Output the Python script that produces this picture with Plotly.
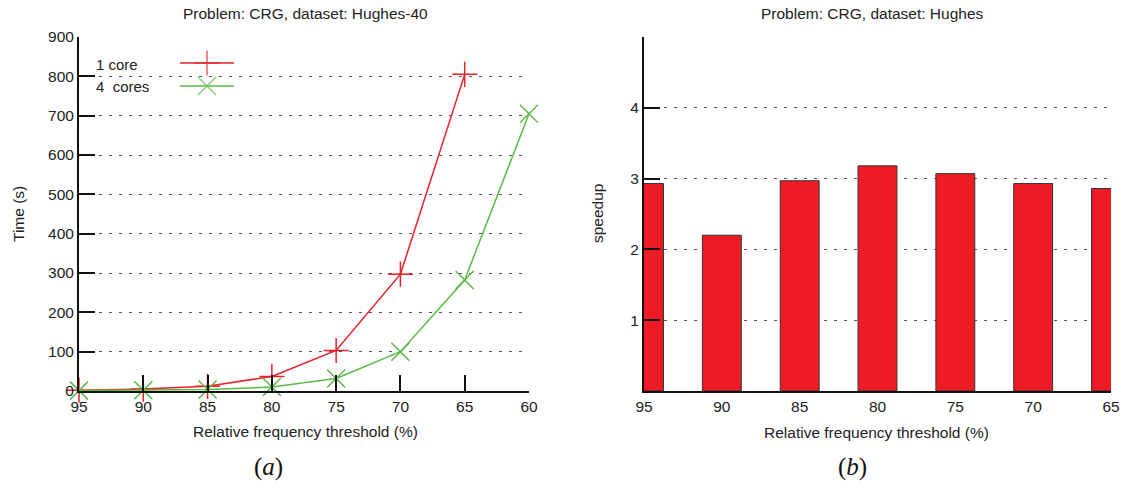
import plotly.graph_objects as go

# ---- data ----
thresholds_a = [95, 90, 85, 80, 75, 70, 65, 60]
time_1core = [2, 5, 12, 37, 103, 297, 805, None]
time_4cores = [1, 2, 4, 10, 32, 100, 282, 705]

thresholds_b = [95, 90, 85, 80, 75, 70, 65]
speedup = [2.93, 2.20, 2.97, 3.18, 3.07, 2.93, 2.86]

x_ticks_a = [95, 90, 85, 80, 75, 70, 65, 60]
y_ticks_a = [0, 100, 200, 300, 400, 500, 600, 700, 800, 900]
y_ticks_b = [1, 2, 3, 4]

RED = "#e8202a"
GREEN = "#5cb947"
FONT = "Liberation Sans, Arial, sans-serif"
W, H = 1125, 488
MS = 18

fig = go.Figure()

fig.add_trace(go.Scatter(
    x=thresholds_a, y=time_1core, mode="lines+markers", name="1 core",
    line=dict(color=RED, width=1.5),
    marker=dict(symbol="cross-thin-open", size=MS, line=dict(color=RED, width=1.5)),
    cliponaxis=False, xaxis="x", yaxis="y", showlegend=False))
fig.add_trace(go.Scatter(
    x=thresholds_a, y=time_4cores, mode="lines+markers", name="4  cores",
    line=dict(color=GREEN, width=1.5),
    marker=dict(symbol="x-thin-open", size=MS, line=dict(color=GREEN, width=1.5)),
    cliponaxis=False, xaxis="x", yaxis="y", showlegend=False))

fig.add_trace(go.Bar(
    x=thresholds_b, y=speedup, width=2.5,
    marker=dict(color="#ed1c24", line=dict(color="#333333", width=1)),
    xaxis="x2", yaxis="y2", showlegend=False))

# legend samples (gnuplot style: text left, sample right) on an overlay axis in window pixels
fig.add_trace(go.Scatter(
    x=[180, 207, 234], y=[63, 63, 63], mode="lines+markers",
    line=dict(color=RED, width=1.5),
    marker=dict(symbol="cross-thin-open", size=[0, MS, 0], line=dict(color=RED, width=1.5)),
    xaxis="x3", yaxis="y3", showlegend=False, hoverinfo="skip"))
fig.add_trace(go.Scatter(
    x=[180, 207, 234], y=[86, 86, 86], mode="lines+markers",
    line=dict(color=GREEN, width=1.5),
    marker=dict(symbol="x-thin-open", size=[0, MS, 0], line=dict(color=GREEN, width=1.5)),
    xaxis="x3", yaxis="y3", showlegend=False, hoverinfo="skip"))

def px(x):
    return x / W

def py(y):
    return 1 - y / H

x0a, x1a = 79, 529
x0b, x1b = 644, 1111
ytop, ybot = 37, 391

GRID = dict(showgrid=True, gridcolor="#555555", gridwidth=1, griddash="3px,7px")

axis_common = dict(
    showline=True, linecolor="#111111", linewidth=2,
    tickfont=dict(family=FONT, size=15.5, color="#222222"),
    zeroline=False, mirror=False, automargin=False,
)

fig.update_layout(
    width=W, height=H,
    margin=dict(l=0, r=0, t=0, b=0, pad=0, autoexpand=False),
    paper_bgcolor="white", plot_bgcolor="rgba(0,0,0,0)",
    font=dict(family=FONT, color="#222222"),
    xaxis=dict(domain=[px(x0a), px(x1a)], range=[95, 60], tickvals=x_ticks_a,
               ticks="inside", ticklen=16, tickwidth=2, tickcolor="#111111",
               showgrid=False, anchor="y", **axis_common),
    yaxis=dict(domain=[py(ybot), py(ytop)], range=[0, 900], tickvals=y_ticks_a,
               ticks="inside", ticklen=16, tickwidth=2, tickcolor="#111111",
               anchor="x", **GRID, **axis_common),
    xaxis2=dict(domain=[px(x0b), px(x1b)], range=[95, 65], tickvals=thresholds_b,
                ticks="", showgrid=False, anchor="y2", **axis_common),
    yaxis2=dict(domain=[py(ybot), py(ytop)], range=[0, 5], tickvals=y_ticks_b,
                ticks="inside", ticklen=16, tickwidth=2, tickcolor="#111111",
                anchor="x2", **GRID, **axis_common),
    xaxis3=dict(domain=[0, 1], range=[0, W], visible=False, anchor="y3",
                fixedrange=True, automargin=False),
    yaxis3=dict(domain=[0, 1], range=[H, 0], visible=False, anchor="x3",
                fixedrange=True, automargin=False),
    bargap=0,
)

ann = []
def text(x, y, s, size=15.5, angle=0, family=FONT, xanchor="center", color="#222222"):
    ann.append(dict(x=px(x), y=py(y), xref="paper", yref="paper", text=s, showarrow=False,
                    font=dict(family=family, size=size, color=color), textangle=angle,
                    xanchor=xanchor, yanchor="middle"))

text(305, 14, "Problem: CRG, dataset: Hughes-40", size=15.5)
text(872, 14, "Problem: CRG, dataset: Hughes", size=15.5)
text(305, 431, "Relative frequency threshold (%)", size=15.5)
text(876, 432, "Relative frequency threshold (%)", size=15.5)
text(18, 214, "Time (s)", size=15.5, angle=-90)
text(597, 214, "speedup", size=15.5, angle=-90)
text(94, 64, "1 core", size=15, xanchor="left")
text(94, 86, "4  cores", size=15, xanchor="left")
text(268, 467, "(<i>a</i>)", size=25, family="Liberation Serif, DejaVu Serif, serif", color="#111111")
text(852, 467, "(<i>b</i>)", size=25, family="Liberation Serif, DejaVu Serif, serif", color="#111111")
fig.update_layout(annotations=ann)

fig.write_html(
    "out.html",
    config={"displayModeBar": False, "staticPlot": True},
    post_script="document.body.style.margin='0';document.body.style.overflow='hidden';",
)
